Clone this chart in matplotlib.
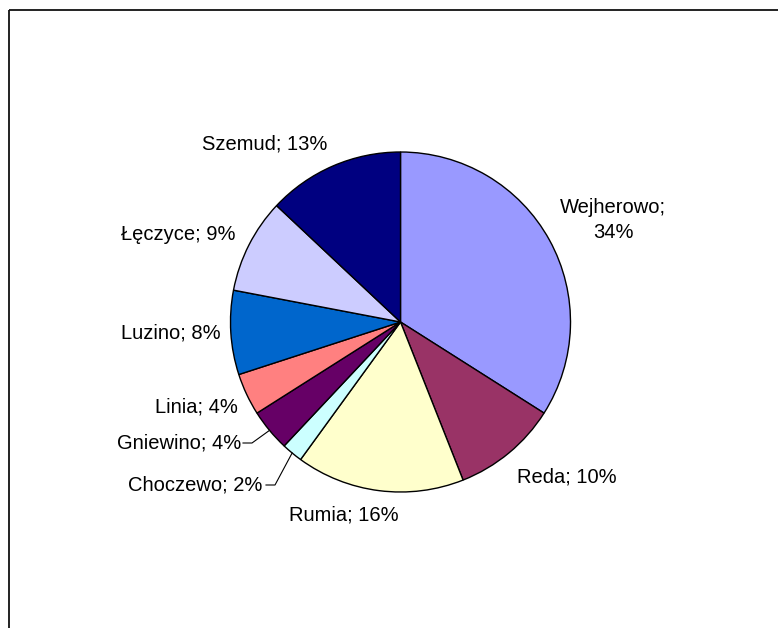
import numpy as np
import matplotlib
matplotlib.use("Agg")
import matplotlib.pyplot as plt

names = ["Wejherowo", "Reda", "Rumia", "Choczewo", "Gniewino", "Linia",
         "Luzino", "Łęczyce", "Szemud"]
shares = [34, 10, 16, 2, 4, 4, 8, 9, 13]
colors = ["#9999FF", "#993366", "#FFFFCC", "#CCFFFF", "#660066", "#FF8080",
          "#0066CC", "#CCCCFF", "#000080"]

W, H = 778, 628
cx, cy, r = 400.5, 322, 170

# label centres in pixels (y from top)
label_pos = [(613, 220), (567, 477), (344, 515), (195, 485), (179, 443),
             (196, 407), (171, 333), (178, 235), (265, 144)]
# labels that get a leader line: index -> right edge of the text
leaders = {3: 265, 4: 242}

fig = plt.figure(figsize=(W / 100, H / 100), dpi=100)
ax = fig.add_axes([0, 0, 1, 1])

ax.pie(shares, colors=colors, startangle=90, counterclock=False,
       center=(cx, H - cy), radius=r,
       wedgeprops=dict(edgecolor="black", linewidth=1.0))
ax.set_xlim(0, W)
ax.set_ylim(0, H)
ax.set_aspect("equal")
ax.axis("off")

fs = 14.5
for i, (name, val) in enumerate(zip(names, shares)):
    sep = ";\n" if name == "Wejherowo" else "; "
    x, y = label_pos[i]
    ax.text(x, H - y, f"{name}{sep}{val}%", ha="center", va="center",
            fontsize=fs, family="Liberation Sans", linespacing=1.35)

# leader lines for the two small slices
cum = np.cumsum([0] + shares)
total = cum[-1]
for i, xr in leaders.items():
    mid = (cum[i] + cum[i + 1]) / 2 / total
    ang = np.deg2rad(90 - mid * 360)
    ex, ey = cx + r * np.cos(ang), cy - r * np.sin(ang)
    ly = label_pos[i][1]
    ax.plot([xr + 1, xr + 10, ex], [H - ly, H - ly, H - ey],
            color="black", lw=0.8)

# chart area border (top and left visible)
ax.plot([9, W], [H - 10, H - 10], color="#111111", lw=1.3, solid_capstyle="butt")
ax.plot([9, 9], [H - 10, 0], color="#111111", lw=1.3, solid_capstyle="butt")

fig.savefig("out.png", dpi=100)
